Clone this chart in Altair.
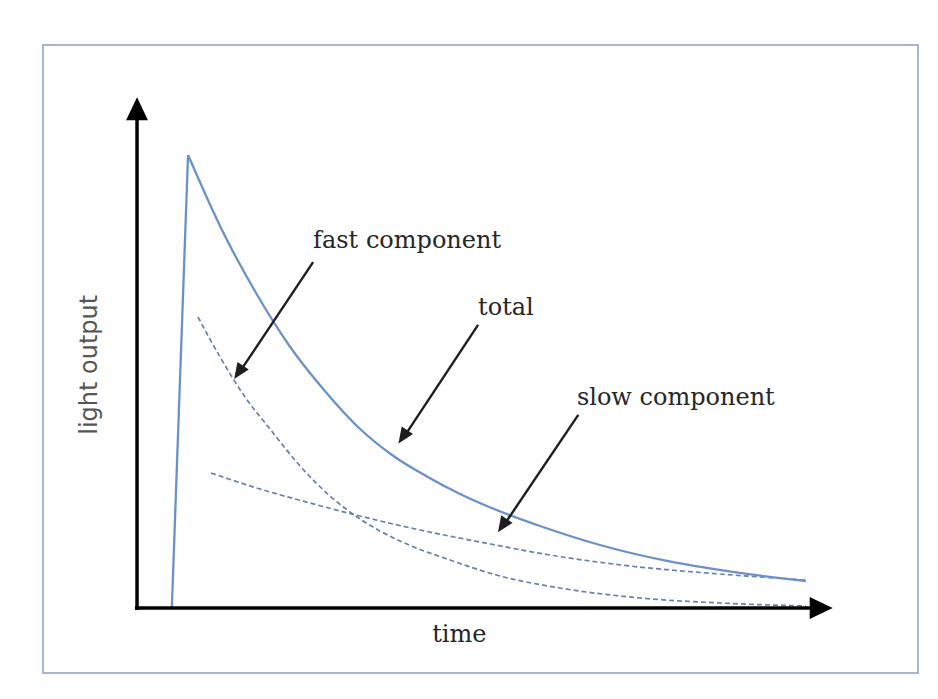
import altair as alt
import pandas as pd

# ---- data (time / light output in arbitrary units, 0..100 = axis length)
rise_t = [5.0, 7.33]
rise_L = [0.0, 88.65]

total_t = [7.33, 12.21, 17.10, 22.01, 26.87, 31.75, 36.64, 41.52, 46.41, 51.29, 57.90, 66.52, 76.15, 85.63, 96.12]
total_L = [88.65, 73.97, 61.64, 51.08, 42.66, 35.42, 29.94, 25.83, 22.31, 19.37, 16.05, 12.33, 9.20, 7.05, 5.28]

fast_t = [8.76, 11.93, 15.52, 19.11, 23.42, 27.73, 32.04, 37.79, 44.97, 52.16, 60.78, 72.27, 83.76, 96.12]
fast_L = [56.95, 49.12, 41.29, 35.03, 27.79, 21.92, 17.42, 13.11, 9.39, 6.26, 3.91, 1.96, 0.98, 0.39]

slow_t = [10.63, 17.67, 24.86, 32.04, 40.66, 49.28, 59.34, 70.83, 83.76, 96.12]
slow_L = [26.42, 23.29, 20.55, 18.00, 15.26, 12.92, 10.37, 8.22, 6.65, 5.48]

# annotation labels (left edge, baseline)
ann_text = ["fast component", "total", "slow component"]
ann_t = [25.3, 49.0, 63.2]
ann_L = [70.5, 57.3, 39.7]

# annotation arrows: start -> head
arr_t1 = [25.3, 49.0, 63.4]
arr_L1 = [67.7, 55.4, 37.8]
arr_t2 = [14.9, 38.5, 52.8]
arr_L2 = [46.5, 33.8, 16.4]
head_t = [14.6, 38.2, 52.5]
head_L = [46.1, 33.5, 16.1]

# axes
axis_len = [97.0, 96.0]
axis_head_t = [0.0, 98.3]
axis_head_L = [97.7, 0.0]
axis_head_angle = [0, 90]

x_dom = [-13.51, 112.21]
y_dom = [-12.72, 110.18]

xs = alt.Scale(domain=x_dom, nice=False, zero=False)
ys = alt.Scale(domain=y_dom, nice=False, zero=False)


def X(f):
    return alt.X(f, type="quantitative", scale=xs, axis=None)


def Y(f):
    return alt.Y(f, type="quantitative", scale=ys, axis=None)


df_rise = pd.DataFrame({"t": rise_t, "L": rise_L})
df_total = pd.DataFrame({"t": total_t, "L": total_L})
df_fast = pd.DataFrame({"t": fast_t, "L": fast_L})
df_slow = pd.DataFrame({"t": slow_t, "L": slow_L})
df_ann = pd.DataFrame({"text": ann_text, "t": ann_t, "L": ann_L})
df_arr = pd.DataFrame({"t1": arr_t1, "L1": arr_L1, "t2": arr_t2, "L2": arr_L2})
df_head = pd.DataFrame({"t": head_t, "L": head_L})
df_axhead = pd.DataFrame({"t": axis_head_t, "L": axis_head_L, "a": axis_head_angle})

curve_blue = "#6a92c8"
dash_blue = "#6a82ab"

rise = alt.Chart(df_rise).mark_line(color=curve_blue, strokeWidth=2.3).encode(x=X("t"), y=Y("L"))
decay = alt.Chart(df_total).mark_line(color=curve_blue, strokeWidth=2.3, interpolate="monotone").encode(
    x=X("t"), y=Y("L"))
fast = alt.Chart(df_fast).mark_line(color=dash_blue, strokeWidth=1.7, strokeDash=[5, 3],
                                    interpolate="monotone").encode(x=X("t"), y=Y("L"))
slow = alt.Chart(df_slow).mark_line(color=dash_blue, strokeWidth=1.7, strokeDash=[5, 3],
                                    interpolate="monotone").encode(x=X("t"), y=Y("L"))

y_axis = alt.Chart(pd.DataFrame({"v": [0.0]})).mark_rule(color="black", strokeWidth=3.5).encode(
    x=X("v"), y=alt.Y("y0:Q", scale=ys, axis=None), y2=alt.Y2("y1:Q")
).transform_calculate(y0="-0.4", y1=str(axis_len[1]))
x_axis = alt.Chart(pd.DataFrame({"v": [0.0]})).mark_rule(color="black", strokeWidth=3.5).encode(
    y=Y("v"), x=alt.X("x0:Q", scale=xs, axis=None), x2=alt.X2("x1:Q")
).transform_calculate(x0="-0.3", x1=str(axis_len[0]))

axis_heads = alt.Chart(df_axhead).mark_point(
    shape="M0,-1L0.95,1L-0.95,1Z", filled=True, color="black", opacity=1, size=529
).encode(x=X("t"), y=Y("L"), angle=alt.Angle("a:Q", scale=None))

arrows = alt.Chart(df_arr).mark_rule(color="#1e1e1e", strokeWidth=2.4).encode(
    x=X("t1"), y=Y("L1"), x2="t2:Q", y2="L2:Q")
heads = alt.Chart(df_head).mark_point(
    shape="M0,-1L0.85,1L-0.85,1Z", filled=True, color="#1e1e1e", opacity=1, size=256, angle=214
).encode(x=X("t"), y=Y("L"))

ann = alt.Chart(df_ann).mark_text(
    font="DejaVu Serif", fontSize=24, color="#262626", align="left", baseline="alphabetic"
).encode(x=X("t"), y=Y("L"), text="text:N")

time_lbl = alt.Chart(pd.DataFrame({"text": ["time"], "t": [46.3], "L": [-6.65]})).mark_text(
    font="DejaVu Serif", fontSize=24, color="#262626", align="center", baseline="alphabetic"
).encode(x=X("t"), y=Y("L"), text="text:N")

light_lbl = alt.Chart(pd.DataFrame({"text": ["light  output"], "t": [-5.75], "L": [47.6]})).mark_text(
    font="DejaVu Sans", fontSize=24, color="#555555", align="center",
    baseline="alphabetic", angle=270
).encode(x=X("t"), y=Y("L"), text="text:N")

chart = alt.layer(
    slow, fast, rise, decay, y_axis, x_axis, axis_heads, arrows, heads, ann, time_lbl, light_lbl
).properties(
    width=875, height=628,
    padding={"left": 35, "top": 37, "right": 12, "bottom": 18},
    autosize=alt.AutoSizeParams(type="none"),
    background="white",
).configure_view(stroke="#a9b7ce", strokeWidth=2, fill="white")

chart.save("out.html", embed_options={"renderer": "svg", "actions": False})
